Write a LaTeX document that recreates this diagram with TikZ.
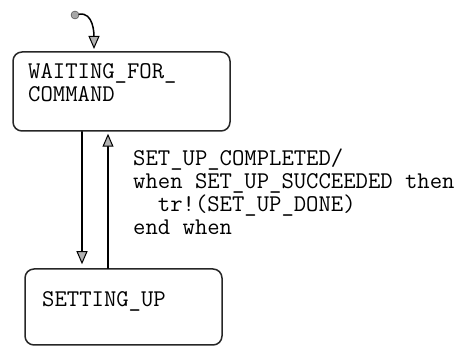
\documentclass[tikz,border=0pt]{standalone}
\usepackage{fontspec}
\usetikzlibrary{arrows.meta}

\tikzset{
  state/.style={draw=black!85, line width=1.5pt, rounded corners=9pt, inner sep=0pt},
  code/.style={font=\ttfamily\fontsize{24}{23}\selectfont, align=left, inner sep=0pt, anchor=north west},
  trans/.style={line width=1.5pt, -{Triangle[length=13pt,width=11pt,fill=gray!60,line width=1pt]}}
}

\begin{document}
\begin{tikzpicture}[x=1pt,y=-1pt,line cap=round,line join=round]
\useasboundingbox (0,0) rectangle (466,347);
% states
\node[state, minimum width=217pt, minimum height=79pt] (wait) at (121.5,91.5) {};
\node[state, minimum width=197pt, minimum height=76pt] (setup) at (123.5,307) {};
\node[code] (waittxt) at (28,63) {WAITING\_FOR\_\\COMMAND};
\node[code] (setuptxt) at (42,291) {SETTING\_UP};
% initial state
\node[circle, draw=black!80, fill=gray!70, inner sep=0pt, minimum size=8pt] (init) at (75,15) {};
\coordinate (inittip) at (94,49);
\draw[trans] (init) to[out=10,in=90] (inittip);
% transitions
\coordinate (down) at (82,0);
\coordinate (up) at (108,0);
\draw[trans, shorten >=4pt] (wait.south -| down) -- (setup.north -| down);
\draw[trans, shorten >=2pt] (setup.north -| up) -- (wait.south -| up);
\node[code] (guard) at (133,149) {SET\_UP\_COMPLETED/\\when SET\_UP\_SUCCEEDED then\\\phantom{xx}tr!(SET\_UP\_DONE)\\end when};
\end{tikzpicture}
\end{document}
